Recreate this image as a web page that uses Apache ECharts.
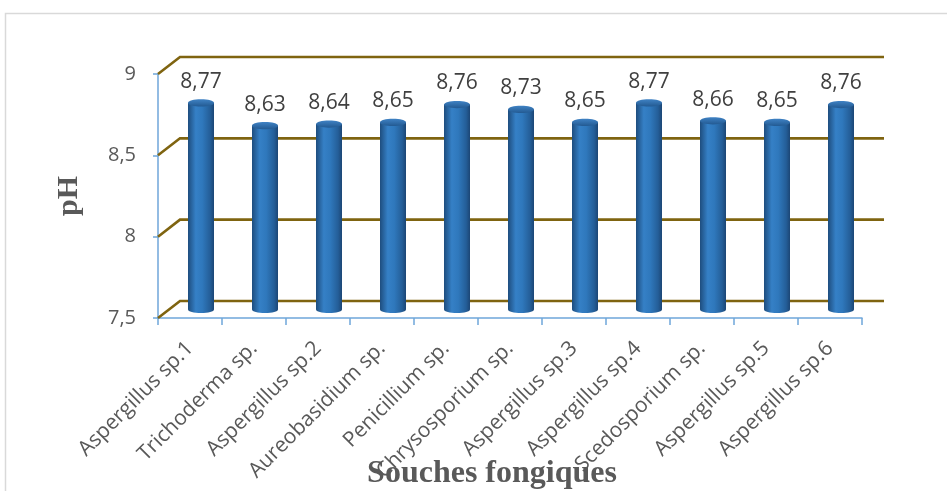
<!DOCTYPE html>
<html>
<head>
<meta charset="utf-8">
<script src="https://cdn.jsdelivr.net/npm/echarts@6/dist/echarts.min.js"></script>
<style>
  html, body { margin: 0; padding: 0; background: #ffffff; }
  #chart { width: 947px; height: 491px; }
</style>
</head>
<body>
<div id="chart"></div>
<script>
// Souches fongiques et pH final
const categories = [
  'Aspergillus sp.1', 'Trichoderma sp.', 'Aspergillus sp.2', 'Aureobasidium sp.',
  'Penicillium sp.', 'Chrysosporium sp.', 'Aspergillus sp.3', 'Aspergillus sp.4',
  'Scedosporium sp.', 'Aspergillus sp.5', 'Aspergillus sp.6'
];
const phValues = [8.77, 8.63, 8.64, 8.65, 8.76, 8.73, 8.65, 8.77, 8.66, 8.65, 8.76];
const yTicks = [7.5, 8, 8.5, 9];

// depth of the pseudo-3D box (back wall offset from the front plane)
const DX = 22, DY = -17;
const BAR_W = 26, CAP_RY = 3.6;
const Y_MIN = 7.5;

const fmt = v => String(v).replace('.', ',');

const chart = echarts.init(document.getElementById('chart'));

function renderGrid(params, api) {
  const cs = params.coordSys;
  const p = api.coord([0, api.value(1)]);
  const y = p[1];
  return {
    type: 'polyline',
    shape: { points: [[cs.x, y], [cs.x + DX, y + DY], [cs.x + cs.width + DX, y + DY]] },
    style: { stroke: '#7F6410', lineWidth: 2.6, fill: null },
    z2: 1
  };
}

function renderBar(params, api) {
  const i = api.value(0);
  const v = api.value(1);
  const top = api.coord([i, v]);
  const base = api.coord([i, Y_MIN]);
  const cx = top[0] + DX / 2;
  const ty = top[1] + DY / 2;
  const by = base[1] + DY / 2;
  const rx = BAR_W / 2;
  const bodyFill = {
    type: 'linear', x: 0, y: 0, x2: 1, y2: 0,
    colorStops: [
      { offset: 0, color: '#1E4D7E' },
      { offset: 0.3, color: '#3580C6' },
      { offset: 0.55, color: '#2F78BC' },
      { offset: 0.85, color: '#245E98' },
      { offset: 1, color: '#1C4675' }
    ]
  };
  return {
    type: 'group',
    children: [
      { type: 'ellipse', shape: { cx: cx, cy: by, rx: rx, ry: CAP_RY }, style: { fill: bodyFill } },
      { type: 'rect', shape: { x: cx - rx, y: ty, width: BAR_W, height: by - ty }, style: { fill: bodyFill } },
      {
        type: 'ellipse', shape: { cx: cx, cy: ty, rx: rx, ry: CAP_RY },
        style: {
          fill: { type: 'linear', x: 0, y: 0, x2: 0, y2: 1,
            colorStops: [{ offset: 0, color: '#3F82C4' }, { offset: 1, color: '#235A92' }] }
        }
      },
      {
        type: 'text',
        style: {
          text: fmt(v), x: cx, y: ty - CAP_RY - 7,
          align: 'center', verticalAlign: 'bottom',
          fill: '#404040', fontSize: 21, fontFamily: 'Open Sans'
        }
      }
    ]
  };
}

chart.setOption({
  animation: false,
  backgroundColor: '#ffffff',
  grid: { left: 158, right: 85, top: 74, bottom: 173, containLabel: false, outerBoundsMode: 'none' },
  graphic: [{
    type: 'rect', shape: { x: 5.5, y: 13.5, width: 1000, height: 600 },
    style: { fill: null, stroke: '#D9D9D9', lineWidth: 1.5 }, z: -10
  }],
  xAxis: {
    type: 'category',
    data: categories,
    name: 'Souches fongiques',
    nameLocation: 'middle',
    nameGap: 140,
    nameMoveOverlap: false,
    nameTextStyle: {
      fontFamily: 'Liberation Serif', fontWeight: 'bold', fontSize: 32, color: '#595959',
      padding: [0, 36, 0, 0]
    },
    axisLine: { lineStyle: { color: '#6FA6DA', width: 1.5 } },
    axisTick: { show: true, length: 7, lineStyle: { color: '#6FA6DA', width: 1.5 } },
    axisLabel: { rotate: 45, margin: 27, fontSize: 21, fontFamily: 'Open Sans', color: '#595959', interval: 0 },
    splitLine: { show: false }
  },
  yAxis: {
    type: 'value',
    min: 7.5, max: 9, interval: 0.5,
    name: 'pH',
    nameLocation: 'middle',
    nameGap: 74,
    nameMoveOverlap: false,
    nameRotate: 90,
    nameTextStyle: { fontFamily: 'Liberation Serif', fontWeight: 'bold', fontSize: 30, color: '#595959' },
    axisLine: { show: true, lineStyle: { color: '#6FA6DA', width: 1.5 } },
    axisTick: { show: true, length: 5, lineStyle: { color: '#6FA6DA', width: 1.5 } },
    axisLabel: { formatter: fmt, fontSize: 20, fontFamily: 'Open Sans', color: '#595959', margin: 22 },
    splitLine: { show: false }
  },
  series: [
    {
      type: 'custom',
      renderItem: renderGrid,
      data: yTicks.map(v => [0, v]),
      encode: { x: 0, y: 1 },
      clip: false,
      silent: true,
      z: 1
    },
    {
      type: 'custom',
      renderItem: renderBar,
      data: phValues.map((v, i) => [i, v]),
      encode: { x: 0, y: 1 },
      clip: false,
      z: 2
    }
  ]
});
</script>
</body>
</html>
